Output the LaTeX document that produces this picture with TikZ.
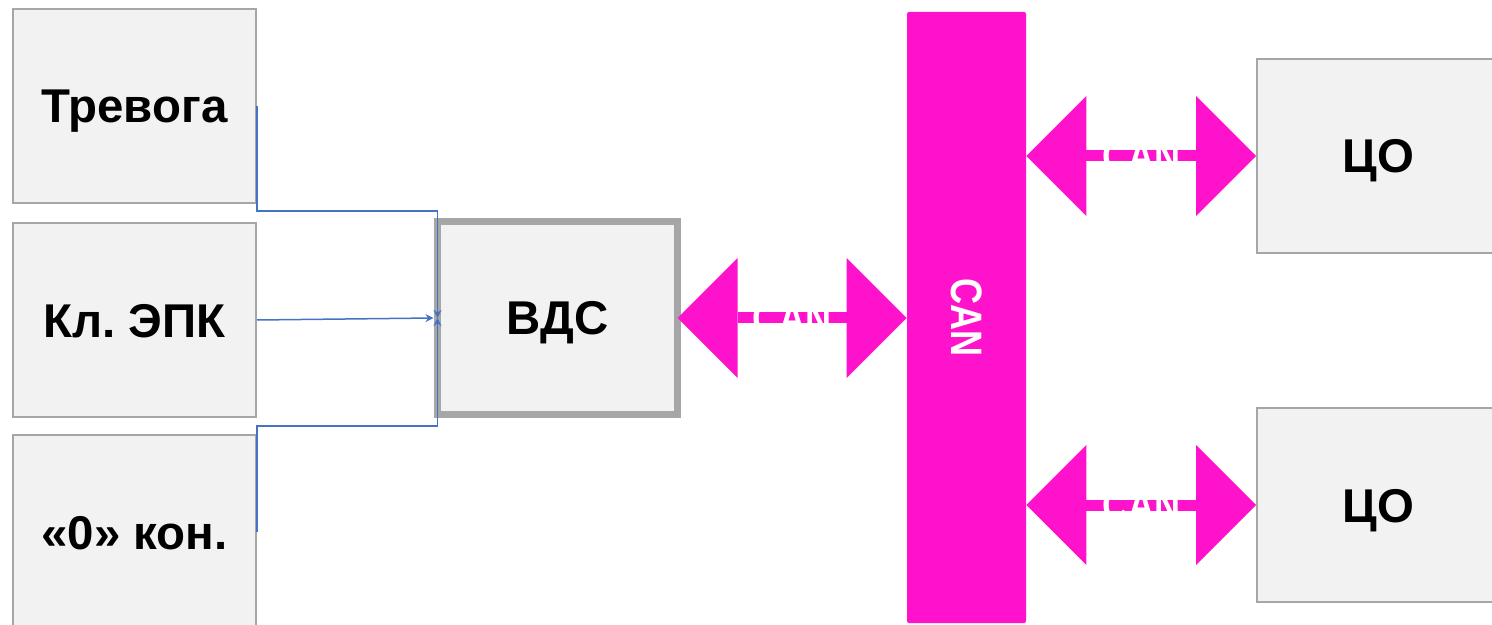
\documentclass[tikz,border=0pt]{standalone}
\usepackage{fontspec}
\setmainfont{Liberation Sans}
\usetikzlibrary{arrows.meta,calc}
\definecolor{boxfill}{HTML}{F2F2F2}
\definecolor{boxline}{HTML}{A6A6A6}
\definecolor{canpink}{HTML}{FF12CC}
\definecolor{wire}{HTML}{4472C4}
\frenchspacing
\begin{document}
\begin{tikzpicture}[x=0.5pt,y=-0.5pt,
  unitbox/.style={draw=boxline, line width=1pt, fill=boxfill,
    minimum width=121.5pt, minimum height=97pt, inner sep=0pt,
    text height=17pt, text depth=0pt,
    font=\fontsize{23.7}{28}\selectfont\bfseries},
  mainbox/.style={unitbox, line width=3.5pt, outer sep=0pt,
    minimum width=120pt, minimum height=96.5pt},
  busbar/.style={fill=canpink, rounded corners=1pt, inner sep=0pt,
    minimum width=59.5pt, minimum height=305.5pt},
  cantext/.style={text=white, inner sep=0pt,
    font=\fontsize{22}{26}\selectfont\bfseries},
  canlink/.style={draw=canpink, line width=5.5pt,
    {Triangle[length=30pt,width=60pt,line width=0pt]}-{Triangle[length=30pt,width=60pt,line width=0pt]}},
  wirelink/.style={draw=wire, line width=0.75pt, -{Stealth[length=4pt,width=4pt]}}]
  \useasboundingbox (0,0) rectangle (1492,625);

  % input devices
  \node[unitbox] (trev) at (134.5,106) {Тревога};
  \node[unitbox] (epk)  at (134.5,320) {Кл. ЭПК};
  \node[unitbox] (zero) at (134.5,532) {«0» кон.};

  % controller
  \node[mainbox] (vds) at (557.5,318) {ВДС};

  % CAN bus
  \node[busbar] (bus) at (966.5,317.5) {};
  \node[cantext, rotate=-90] (buslbl) at (bus.center) {\scalebox{0.82}[1]{CAN}};

  % terminal units
  \node[unitbox] (co1) at (1378.5,156) {ЦО};
  \node[unitbox] (co2) at (1378.5,505) {ЦО};

  % input wiring into the controller
  \coordinate (jn) at (vds.west);
  \draw[wirelink] (trev.east) -- ++(0,105) -| (jn);
  \draw[wirelink] (epk.east) -- ($(vds.west)+(-4,0)$);
  \draw[wirelink] (zero.east) -- ++(0,-106) -| (jn);

  % CAN links
  \draw[canlink] (vds.east) -- (vds.east -| bus.west)
    node[midway, cantext] (l0) {\scalebox{0.82}[1]{CAN}};
  \draw[canlink] (co1.west -| bus.east) -- (co1.west)
    node[midway, cantext] (l1) {\scalebox{0.82}[1]{CAN}};
  \draw[canlink] (co2.west -| bus.east) -- (co2.west)
    node[midway, cantext] (l2) {\scalebox{0.82}[1]{CAN}};
\end{tikzpicture}
\end{document}
